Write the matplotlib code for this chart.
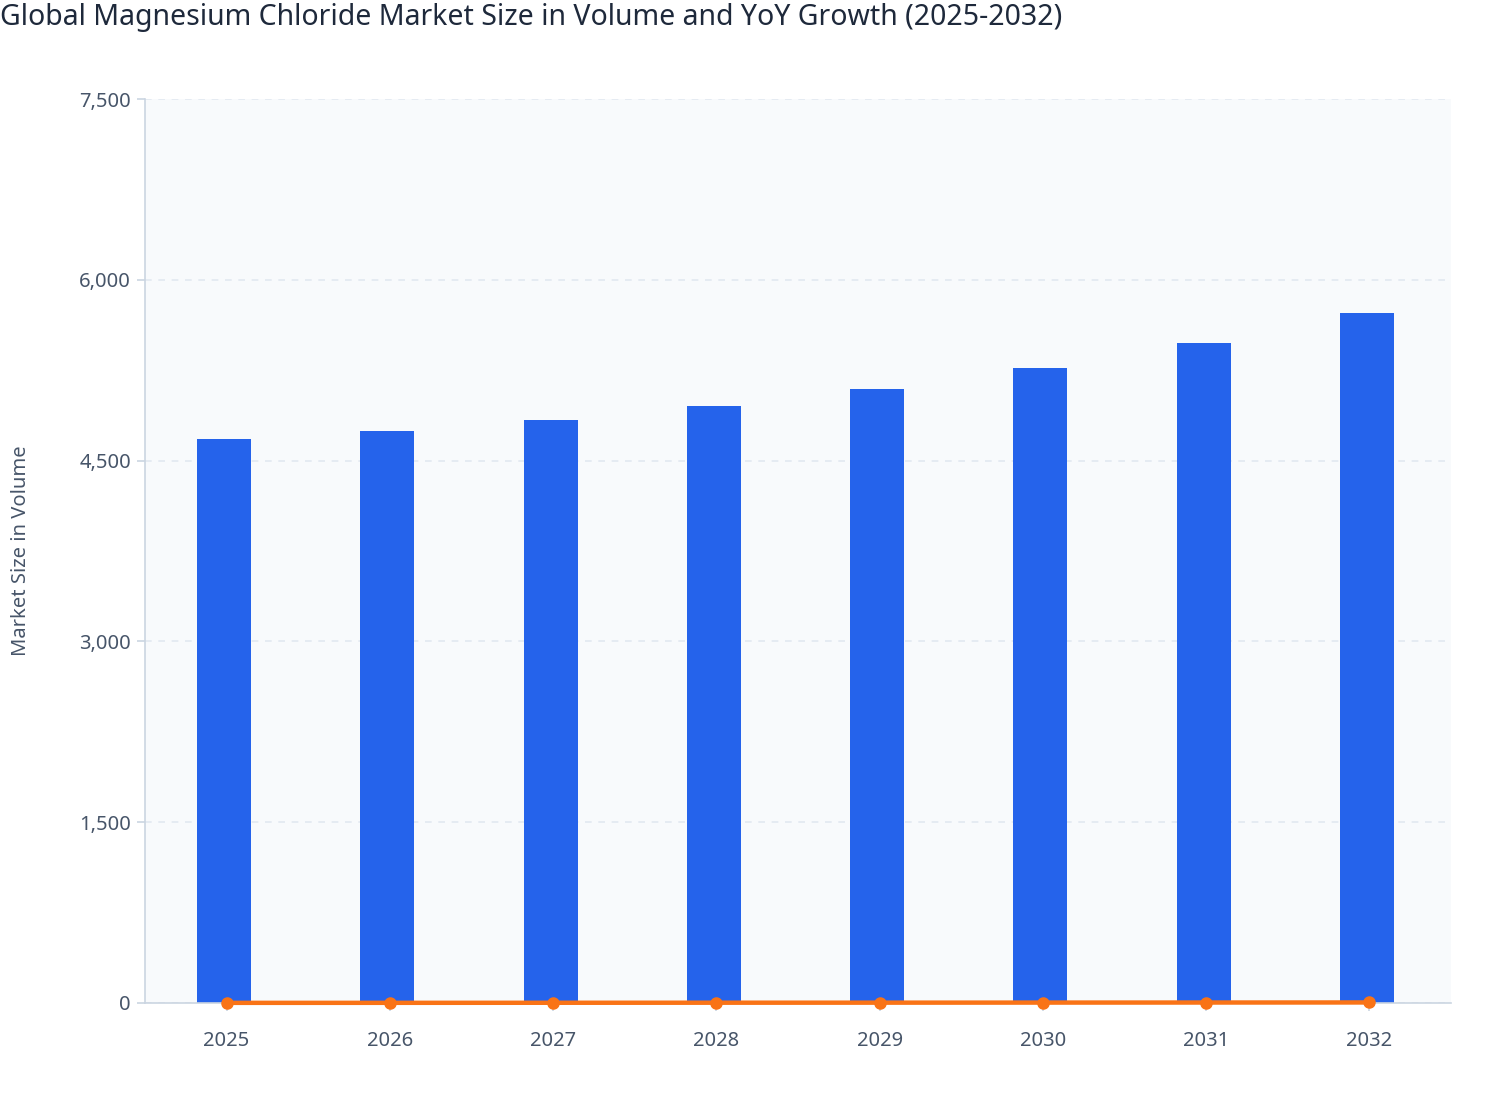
import matplotlib
matplotlib.use("Agg")
import matplotlib.pyplot as plt
from matplotlib.ticker import FuncFormatter

years = ["2025", "2026", "2027", "2028", "2029", "2030", "2031", "2032"]
volume = [4679, 4746, 4837, 4953, 5094, 5268, 5476, 5725]
yoy_growth = [1.2, 1.4, 1.9, 2.4, 2.8, 3.4, 3.9, 4.5]
yticks = [0, 1500, 3000, 4500, 6000, 7500]

plt.rcParams['font.family'] = ['Noto Sans', 'DejaVu Sans']

fig = plt.figure(figsize=(15.08, 11.2), dpi=100)
ax = fig.add_axes([145/1508, 1 - 1003/1120, (1451-145)/1508, (1003-99)/1120])
ax.set_facecolor('#F8FAFC')

x = list(range(len(years)))
ax.bar([v - 0.015 for v in x], volume, width=0.33, color='#2563EB', zorder=2)
ax.plot(x, yoy_growth, color='#F97316', linewidth=3.2, marker='o', markersize=8, zorder=3, clip_on=False)

ax.set_xlim(-0.5, 7.5)
ax.set_ylim(0, 7500)
ax.set_yticks(yticks)
ax.yaxis.set_major_formatter(FuncFormatter(lambda v, p: f"{int(v):,}"))
ax.set_xticks(x)
ax.set_xticklabels(years)

ax.grid(axis='y', color='#E2E8F0', linestyle=(0, (4, 4)), linewidth=1.2, zorder=0)
ax.set_axisbelow(True)

for s in ['top', 'right']:
    ax.spines[s].set_visible(False)
for s in ['left', 'bottom']:
    ax.spines[s].set_color('#CBD5E1')
    ax.spines[s].set_linewidth(1.2)

ax.tick_params(axis='both', colors='#CBD5E1', labelcolor='#475569', labelsize=14.5, length=6, width=1.2)
ax.tick_params(axis='x', pad=14)
ax.tick_params(axis='y', pad=4)

ax.set_ylabel("Market Size in Volume", fontsize=14.5, color='#475569', labelpad=35)

fig.text(0.0, 1 - 18/1120, "Global Magnesium Chloride Market Size in Volume and YoY Growth (2025-2032)",
         fontsize=20.5, color='#1E293B', ha='left', va='center', fontweight='medium')

fig.savefig("out.png", dpi=100)
